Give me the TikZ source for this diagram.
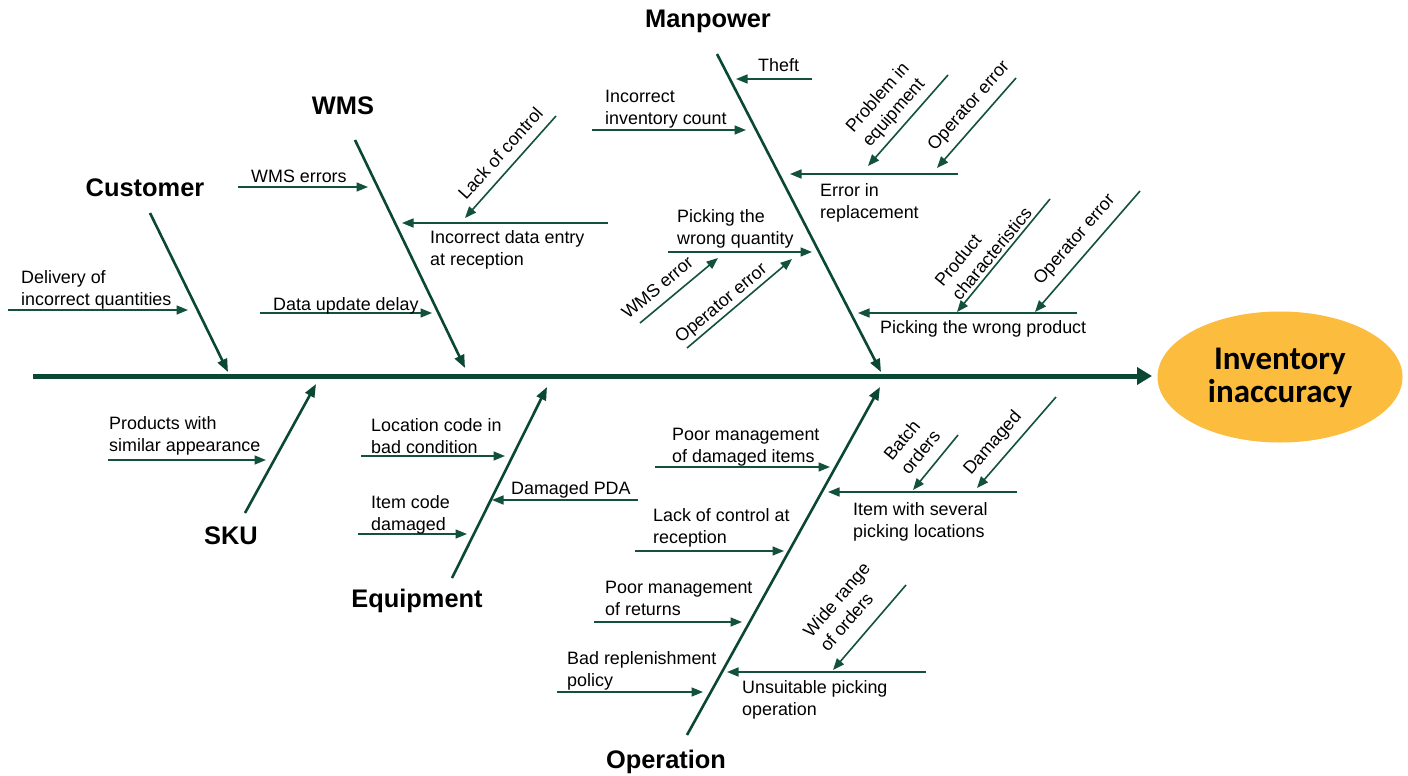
\documentclass[tikz,border=0pt]{standalone}
\usepackage{fontspec}
\setmainfont{Liberation Sans}
\newfontfamily\calib{Carlito}
\usetikzlibrary{arrows.meta,shapes.geometric}
\definecolor{fg}{RGB}{10,72,52}
\definecolor{subc}{RGB}{18,82,60}
\definecolor{gold}{RGB}{252,189,62}
\begin{document}
\begin{tikzpicture}[x=1pt,y=-1pt,
  spine/.style={draw=fg, line width=5pt, -{Triangle[length=15pt,width=17pt]}},
  bone/.style={draw=fg, line width=2.6pt, -{Triangle[length=13pt,width=10pt]}},
  cause/.style={draw=subc, line width=1.6pt, -{Triangle[length=11.5pt,width=9pt]}},
  lbl/.style={font=\fontsize{17.9}{22}\selectfont, inner sep=0pt, align=left, anchor=base west},
  rlbl/.style={font=\fontsize{17.9}{22}\selectfont, inner sep=0pt, align=left, anchor=base west},
  cat/.style={font=\fontsize{25.4}{28}\selectfont\bfseries, inner sep=0pt, anchor=base}]
\useasboundingbox (0,0) rectangle (1408,776);
\fill[white] (0,0) rectangle (1408,776);

% effect
\node[ellipse, fill=gold, minimum width=245pt, minimum height=131pt, inner sep=0pt] (effect) at (1280,377) {};
\node[font=\fontsize{33}{33}\selectfont\calib\bfseries, align=center, inner sep=0pt, anchor=base] (effecttext) at (1280,402) {Inventory\\inaccuracy};

% spine
\coordinate (s0) at (33,376);
\coordinate (s1) at (1152,376);
\draw[spine] (s0) -- (s1);

% ---------- Customer
\node[cat] (customer) at (145,196) {Customer};
\coordinate (cu1) at (150,213); \coordinate (cu2) at (228,372);
\draw[bone] (cu1) -- (cu2);
\coordinate (de1) at (8,310); \coordinate (de2) at (188,310);
\draw[cause] (de1) -- (de2);
\node[lbl] (delivery) at (21,305) {Delivery of\\incorrect quantities};

% ---------- WMS
\node[cat] (wms) at (343,114) {WMS};
\coordinate (wm1) at (355,140); \coordinate (wm2) at (465,368);
\draw[bone] (wm1) -- (wm2);
\coordinate (we1) at (238,187); \coordinate (we2) at (368,187);
\draw[cause] (we1) -- (we2);
\node[lbl] (wmserr) at (251,182) {WMS errors};
\coordinate (id1) at (608,223); \coordinate (id2) at (402,223);
\draw[cause] (id1) -- (id2);
\node[lbl] (incdata) at (430,265) {Incorrect data entry\\at reception};
\coordinate (lc1) at (556,116); \coordinate (lc2) at (465,218);
\draw[cause] (lc1) -- (lc2);
\node[rlbl, rotate=48] (lackctl) at (466,201) {Lack of control};
\coordinate (du1) at (260,313); \coordinate (du2) at (432,313);
\draw[cause] (du1) -- (du2);
\node[lbl] (dataupd) at (273,310) {Data update delay};

% ---------- Manpower
\node[cat] (manpower) at (708,28) {Manpower};
\coordinate (mp1) at (717,54); \coordinate (mp2) at (881,372);
\draw[bone] (mp1) -- (mp2);
\coordinate (th1) at (812,79); \coordinate (th2) at (736,79);
\draw[cause] (th1) -- (th2);
\node[lbl] (theft) at (758,72) {Theft};
\coordinate (ic1) at (592,130); \coordinate (ic2) at (746,130);
\draw[cause] (ic1) -- (ic2);
\node[lbl] (invcount) at (605,124) {Incorrect\\inventory count};
\coordinate (er1) at (958,174); \coordinate (er2) at (790,174);
\draw[cause] (er1) -- (er2);
\node[lbl] (errrep) at (820,218) {Error in\\replacement};
\coordinate (pe1) at (948,75); \coordinate (pe2) at (868,166);
\draw[cause] (pe1) -- (pe2);
\node[rlbl, rotate=48.7] (probeq) at (870,148) {Problem in\\equipment};
\coordinate (oe1) at (1016,78); \coordinate (oe2) at (937,168);
\draw[cause] (oe1) -- (oe2);
\node[rlbl, rotate=48.7] (operr1) at (935,152) {Operator error};
\coordinate (pq1) at (668,252); \coordinate (pq2) at (812,252);
\draw[cause] (pq1) -- (pq2);
\node[lbl] (pickqty) at (677,244) {Picking the\\wrong quantity};
\coordinate (wr1) at (640,323); \coordinate (wr2) at (718,258);
\draw[cause] (wr1) -- (wr2);
\node[rlbl, rotate=40] (wmserr2) at (628,320) {WMS error};
\coordinate (oq1) at (687,348); \coordinate (oq2) at (792,259);
\draw[cause] (oq1) -- (oq2);
\node[rlbl, rotate=40] (operr2) at (681,344) {Operator error};
\coordinate (pp1) at (1077,313); \coordinate (pp2) at (858,313);
\draw[cause] (pp1) -- (pp2);
\node[lbl] (pickprod) at (880,333) {Picking the wrong product};
\coordinate (pc1) at (1050,199); \coordinate (pc2) at (957,312);
\draw[cause] (pc1) -- (pc2);
\node[rlbl, rotate=50.5] (prodchar) at (960,302) {Product\\characteristics};
\coordinate (or1) at (1140,191); \coordinate (or2) at (1035,312);
\draw[cause] (or1) -- (or2);
\node[rlbl, rotate=49] (operr3) at (1041,286) {Operator error};

% ---------- SKU
\node[cat] (sku) at (231,544) {SKU};
\coordinate (sk1) at (245,513); \coordinate (sk2) at (316,384);
\draw[bone] (sk1) -- (sk2);
\coordinate (ps1) at (108,460); \coordinate (ps2) at (266,460);
\draw[cause] (ps1) -- (ps2);
\node[lbl] (prodsim) at (109,451) {Products with\\similar appearance};

% ---------- Equipment
\node[cat] (equipment) at (417,607) {Equipment};
\coordinate (eq1) at (452,578); \coordinate (eq2) at (547,387);
\draw[bone] (eq1) -- (eq2);
\coordinate (lo1) at (361,456); \coordinate (lo2) at (505,456);
\draw[cause] (lo1) -- (lo2);
\node[lbl] (loccode) at (371,453) {Location code in\\bad condition};
\coordinate (it1) at (358,534); \coordinate (it2) at (467,534);
\draw[cause] (it1) -- (it2);
\node[lbl] (itemcode) at (371,530) {Item code\\damaged};
\coordinate (pd1) at (638,500); \coordinate (pd2) at (492,500);
\draw[cause] (pd1) -- (pd2);
\node[lbl] (pda) at (511,494) {Damaged PDA};

% ---------- Operation
\node[cat] (operation) at (666,768) {Operation};
\coordinate (op1) at (687,735); \coordinate (op2) at (880,387);
\draw[bone] (op1) -- (op2);
\coordinate (pm1) at (655,467); \coordinate (pm2) at (830,467);
\draw[cause] (pm1) -- (pm2);
\node[lbl] (poordam) at (672,462) {Poor management\\of damaged items};
\coordinate (iw1) at (1017,492); \coordinate (iw2) at (828,492);
\draw[cause] (iw1) -- (iw2);
\node[lbl] (itemsev) at (853,537) {Item with several\\picking locations};
\coordinate (bo1) at (958,435); \coordinate (bo2) at (913,490);
\draw[cause] (bo1) -- (bo2);
\node[rlbl, rotate=50.7] (batch) at (909,476) {Batch\\orders};
\coordinate (dm1) at (1056,397); \coordinate (dm2) at (977,488);
\draw[cause] (dm1) -- (dm2);
\node[rlbl, rotate=49] (damaged) at (971,476) {Damaged};
\coordinate (lr1) at (635,551); \coordinate (lr2) at (784,551);
\draw[cause] (lr1) -- (lr2);
\node[lbl] (lackrec) at (653,543) {Lack of control at\\reception};
\coordinate (pr1) at (594,622); \coordinate (pr2) at (742,622);
\draw[cause] (pr1) -- (pr2);
\node[lbl] (poorret) at (605,615) {Poor management\\of returns};
\coordinate (br1) at (557,692); \coordinate (br2) at (703,692);
\draw[cause] (br1) -- (br2);
\node[lbl] (badrep) at (567,686) {Bad replenishment\\policy};
\coordinate (up1) at (926,672); \coordinate (up2) at (727,672);
\draw[cause] (up1) -- (up2);
\node[lbl] (unsuit) at (742,715) {Unsuitable picking\\operation};
\coordinate (wo1) at (906,585); \coordinate (wo2) at (833,670);
\draw[cause] (wo1) -- (wo2);
\node[rlbl, rotate=49.3] (widerange) at (828,653) {Wide range\\of orders};
\end{tikzpicture}
\end{document}
